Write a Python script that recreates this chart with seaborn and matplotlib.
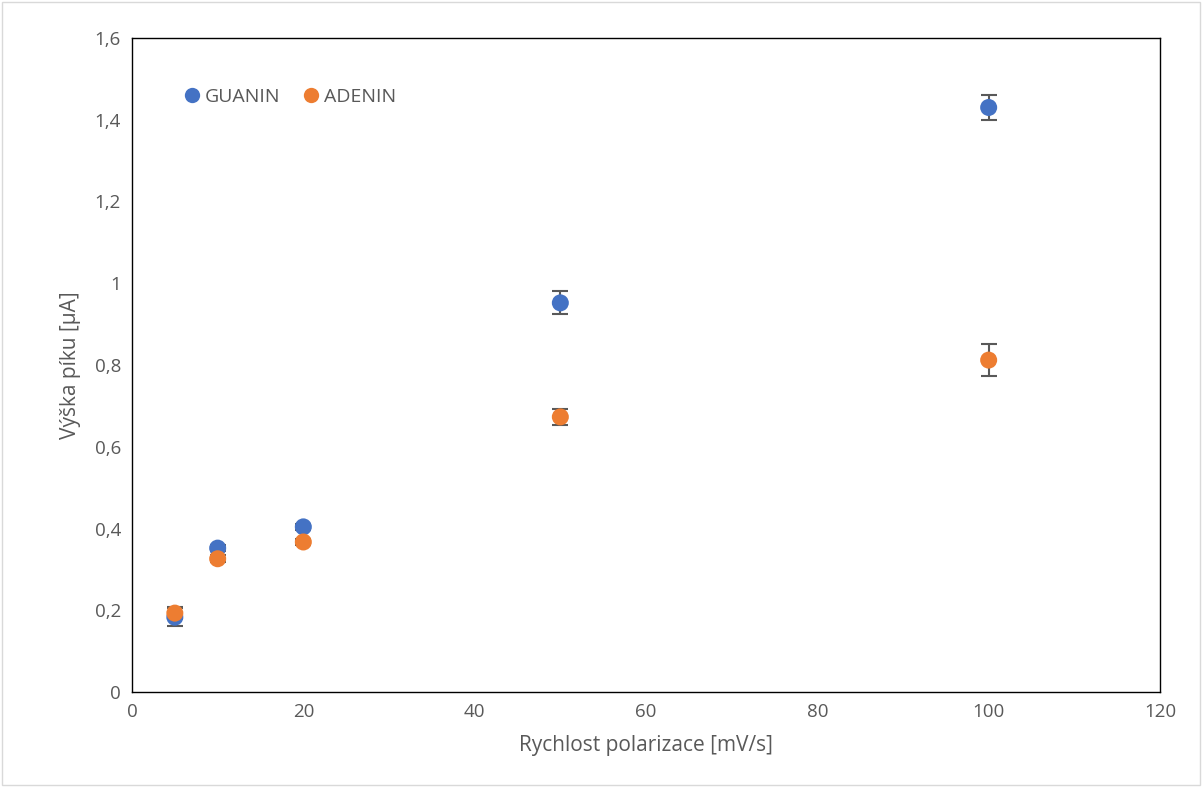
import matplotlib
matplotlib.use("Agg")
import matplotlib.pyplot as plt
import seaborn as sns
import pandas as pd

x_vals = [5, 10, 20, 50, 100]
guanin = [0.183, 0.352, 0.404, 0.952, 1.430]
guanin_err = [0.022, 0.008, 0.008, 0.028, 0.030]
adenin = [0.193, 0.326, 0.367, 0.673, 0.812]
adenin_err = [0.014, 0.008, 0.008, 0.020, 0.039]

sns.set_theme(style="white")
plt.rcParams['font.family'] = ['Open Sans', 'DejaVu Sans']

df = pd.DataFrame({
    "x": x_vals * 2,
    "y": guanin + adenin,
    "err": guanin_err + adenin_err,
    "series": ["GUANIN"] * 5 + ["ADENIN"] * 5,
})

colors = {"GUANIN": "#4472C4", "ADENIN": "#ED7D31"}

fig = plt.figure(figsize=(12.02, 7.87), dpi=100)
ax = fig.add_axes([132 / 1202, 1 - 692 / 787, (1160 - 132) / 1202, (692 - 38) / 787])

for name in ["GUANIN", "ADENIN"]:
    sub = df[df.series == name]
    ax.errorbar(sub.x, sub.y, yerr=sub.err, fmt="none", ecolor="#595959",
                elinewidth=1.5, capsize=6, capthick=1.5, zorder=2)

sns.scatterplot(data=df, x="x", y="y", hue="series", palette=colors,
                s=150, edgecolor="none", ax=ax, zorder=3, legend=True)

ax.set_xlim(0, 120)
ax.set_ylim(0, 1.6)
ax.set_xticks(range(0, 121, 20))
ax.set_yticks([0, 0.2, 0.4, 0.6, 0.8, 1.0, 1.2, 1.4, 1.6])
ax.set_yticklabels(["0", "0,2", "0,4", "0,6", "0,8", "1", "1,2", "1,4", "1,6"])
ax.tick_params(colors="#595959", labelsize=13.5, length=0, pad=8)
for s in ax.spines.values():
    s.set_color("#000000")
    s.set_linewidth(1.0)
ax.set_xlabel("Rychlost polarizace [mV/s]", fontsize=15, color="#595959", labelpad=10)
ax.set_ylabel("Výška píku [µA]", fontsize=15, color="#595959", labelpad=10)

leg = ax.legend(loc="center left", bbox_to_anchor=(0.03, 0.91), ncol=2, frameon=False,
                fontsize=14, handletextpad=-0.35, columnspacing=0.6, markerscale=0.9,
                borderpad=0)
for t in leg.get_texts():
    t.set_color("#595959")

fig.patches.append(plt.Rectangle((0.002, 0.002), 0.996, 0.996, transform=fig.transFigure,
                                 fill=False, edgecolor="#D9D9D9", linewidth=1))

fig.savefig("out.png", dpi=100)
